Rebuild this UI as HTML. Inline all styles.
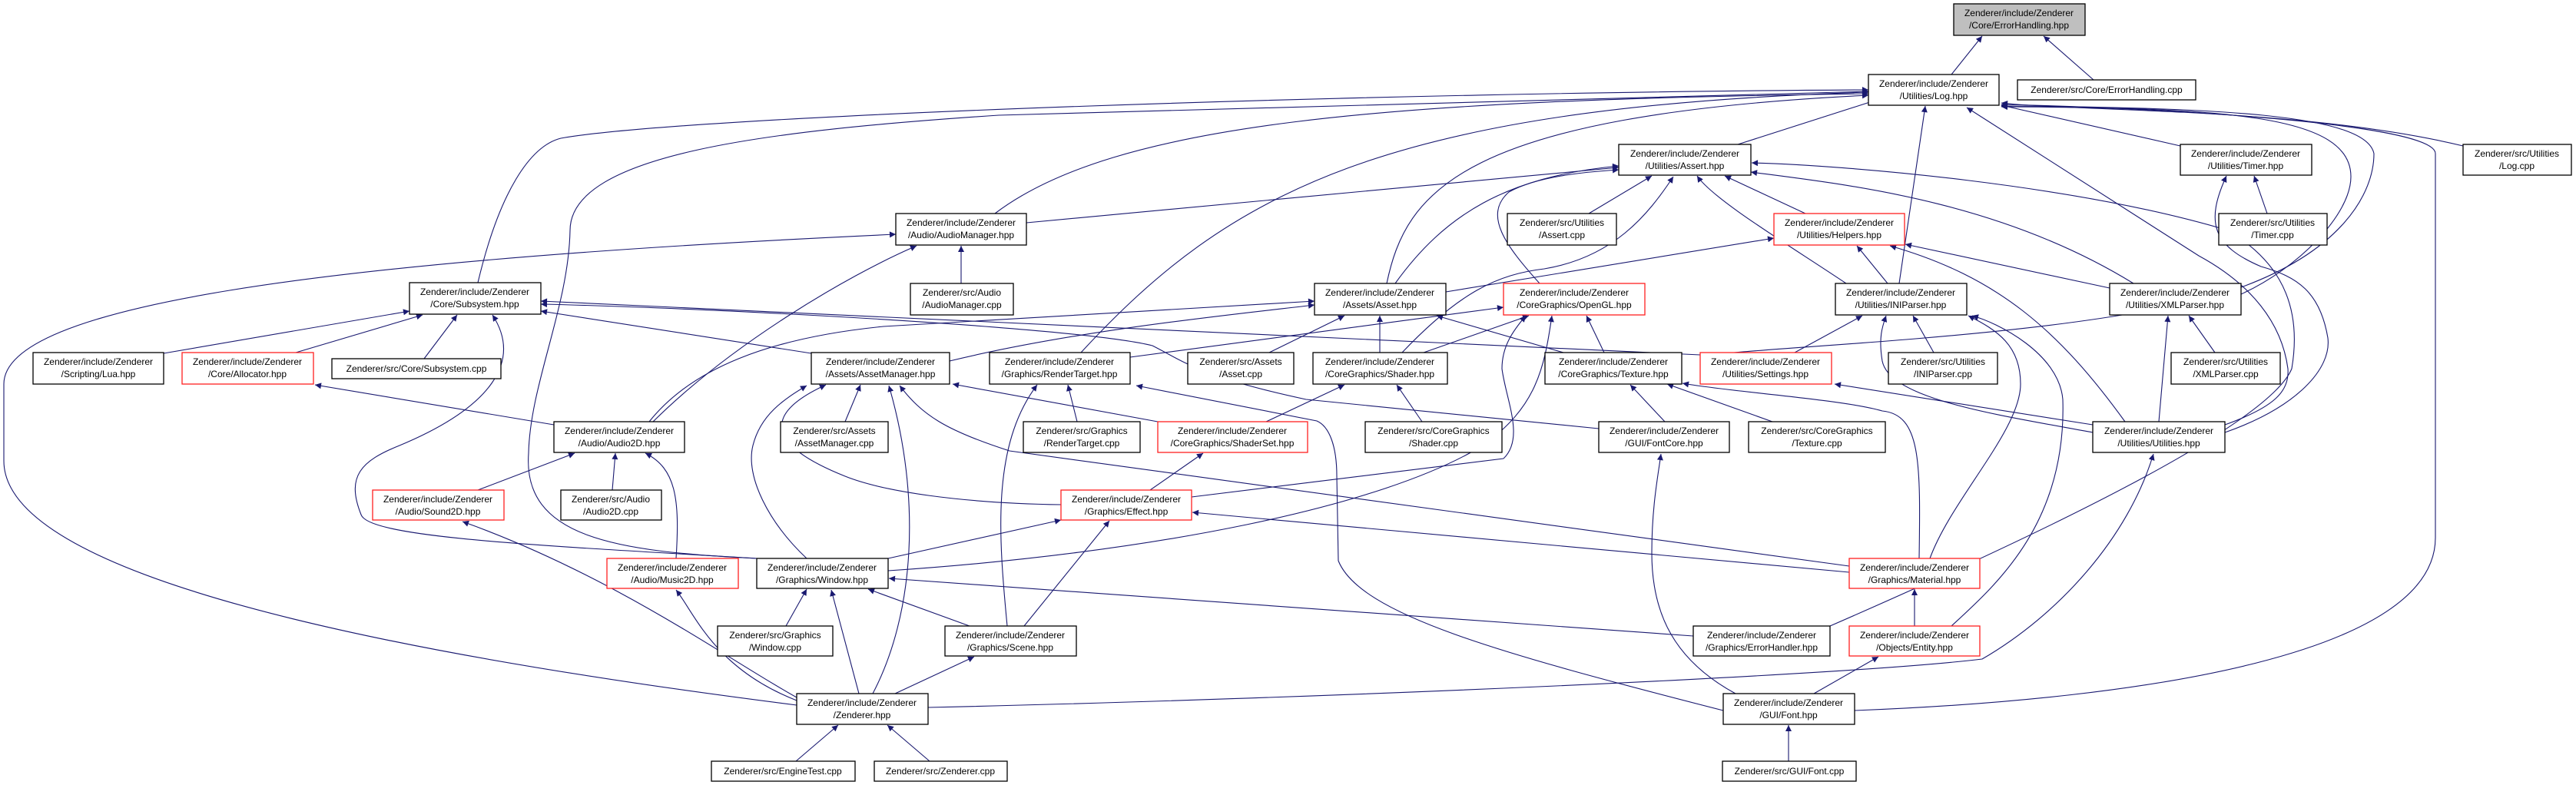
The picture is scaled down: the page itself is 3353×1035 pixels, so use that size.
<!DOCTYPE html>
<html><head><meta charset="utf-8"><style>
html,body{margin:0;padding:0;background:#fff;}
svg{display:block;}
text{font-family:"Liberation Sans",Arial,sans-serif;font-size:12px;text-anchor:middle;fill:#000;}
.n{fill:#fff;stroke:#000;stroke-width:1.3;}
.r{fill:#fff;stroke:#ff2020;stroke-width:1.3;}
.e{fill:none;stroke:#191970;stroke-width:1.1;marker-end:url(#a);}
</style></head><body>
<svg width="3353" height="1035" viewBox="0 0 3353 1035" xmlns="http://www.w3.org/2000/svg">
<defs><marker id="a" viewBox="0 0 10 10" refX="10" refY="5" markerWidth="11" markerHeight="8" markerUnits="userSpaceOnUse" orient="auto"><path d="M0,0L10,5L0,10z" fill="#191970"/></marker></defs>
<g>
<path class="e" d="M2540,97 L2580,47"/>
<path class="e" d="M2725,104 L2660,47"/>
<path class="e" d="M2262,188 L2440,131"/>
<path class="e" d="M2838,190 L2605,137"/>
<path class="e" d="M3206,190 C3000,140 2700,145 2605,134"/>
<path class="e" d="M1295,278 C1450,160 1800,130 2432,122"/>
<path class="e" d="M622,368 C650,250 690,190 730,180 C900,150 1800,120 2432,117"/>
<path class="e" d="M985,727 C800,718 680,700 688,590 C690,500 740,400 742,300 C742,200 1000,170 1300,150 L2432,119"/>
<path class="e" d="M1805,369 C1830,250 1900,150 2432,124"/>
<path class="e" d="M1407,459 C1600,250 1800,140 2432,120"/>
<path class="e" d="M2472,369 L2506,138"/>
<path class="e" d="M2896,553 C2960,530 2980,510 2978,480 C2970,420 2930,370 2862,333 L2560,140"/>
<path class="e" d="M2917,383 C2990,350 3060,280 3060,230 C3060,150 2900,140 2605,139"/>
<path class="e" d="M2213,464 C2300,450 2700,440 2900,380 C3050,330 3090,250 3090,200 C3080,150 2900,140 2605,138"/>
<path class="e" d="M2414,925 C2800,910 3170,850 3170,700 L3170,200 C3170,160 2800,140 2605,136"/>
<path class="e" d="M1037,918 C500,850 5,750 5,600 L5,500 C5,400 400,340 1166,305"/>
<path class="e" d="M1336,290 L2107,218"/>
<path class="e" d="M1816,369 C1880,280 1960,230 2107,216"/>
<path class="e" d="M2004,369 C1960,320 1930,280 1964,250 C2000,230 2060,224 2107,221"/>
<path class="e" d="M1825,459 C1900,380 1950,357 2010,350 C2100,335 2145,280 2178,230"/>
<path class="e" d="M2068,278 L2150,229"/>
<path class="e" d="M2350,278 L2245,229"/>
<path class="e" d="M2403,369 C2330,320 2230,260 2209,229"/>
<path class="e" d="M2777,369 C2600,260 2400,240 2279,224"/>
<path class="e" d="M2382,815 C2600,720 2950,560 2983,480 C3000,380 2950,330 2900,300 C2700,240 2400,215 2280,212"/>
<path class="e" d="M2951,278 L2934,229"/>
<path class="e" d="M2457,369 L2417,320"/>
<path class="e" d="M2746,375 L2480,318"/>
<path class="e" d="M1882,380 L2309,310"/>
<path class="e" d="M2766,549 C2680,430 2600,360 2460,320"/>
<path class="e" d="M2896,563 C2990,530 3035,480 3030,440 C3020,380 2990,360 2943,347 C2880,320 2870,290 2898,229"/>
<path class="e" d="M1251,369 L1251,320"/>
<path class="e" d="M850,549 C950,450 1100,360 1193,320"/>
<path class="e" d="M213,460 L533,405"/>
<path class="e" d="M385,459 L550,410"/>
<path class="e" d="M552,467 L595,410"/>
<path class="e" d="M1056,460 L704,405"/>
<path class="e" d="M985,727 C700,710 480,700 470,670 C450,620 470,600 520,580 C640,530 680,470 641,410"/>
<path class="e" d="M2081,558 L1700,520 C1560,490 1540,470 1500,450 C1400,425 900,400 704,396"/>
<path class="e" d="M2213,462 L704,392"/>
<path class="e" d="M1236,470 C1400,430 1600,410 1711,397"/>
<path class="e" d="M845,549 C900,480 1000,440 1150,425 L1711,392"/>
<path class="e" d="M1652,459 L1750,411"/>
<path class="e" d="M1796,459 L1796,411"/>
<path class="e" d="M2035,459 L1870,411"/>
<path class="e" d="M1471,465 L1957,400"/>
<path class="e" d="M1853,459 L1990,411"/>
<path class="e" d="M2088,459 L2065,411"/>
<path class="e" d="M1551,647 L1957,597 C1985,570 1960,520 1955,480 C1955,450 1970,430 1986,411"/>
<path class="e" d="M1156,743 C1500,720 1800,660 1930,580 C2000,530 2010,480 2020,411"/>
<path class="e" d="M2336,459 L2424,411"/>
<path class="e" d="M2517,459 L2490,411"/>
<path class="e" d="M2883,459 L2849,411"/>
<path class="e" d="M2810,549 L2822,411"/>
<path class="e" d="M2724,563 C2600,540 2460,520 2450,470 C2445,440 2450,425 2455,411"/>
<path class="e" d="M2724,553 L2388,500"/>
<path class="e" d="M2512,727 C2540,650 2630,560 2630,500 C2630,450 2600,430 2562,411"/>
<path class="e" d="M2540,815 C2600,760 2690,680 2685,520 C2680,460 2600,420 2567,411"/>
<path class="e" d="M2498,727 C2500,600 2500,540 2450,535 C2400,520 2250,510 2190,499"/>
<path class="e" d="M2307,549 L2170,500"/>
<path class="e" d="M2167,549 L2122,501"/>
<path class="e" d="M1648,549 L1750,501"/>
<path class="e" d="M1851,549 L1818,501"/>
<path class="e" d="M1402,549 L1390,501"/>
<path class="e" d="M1311,815 C1300,700 1290,580 1350,501"/>
<path class="e" d="M1507,549 L1240,500"/>
<path class="e" d="M1497,638 L1566,590"/>
<path class="e" d="M1156,727 L1381,677"/>
<path class="e" d="M1333,815 L1444,678"/>
<path class="e" d="M1381,657 C1250,655 1150,640 1100,620 C1000,580 990,540 1075,501"/>
<path class="e" d="M2407,745 L1552,667"/>
<path class="e" d="M2407,737 L1314,587 C1230,560 1200,540 1171,502"/>
<path class="e" d="M1050,727 C1000,680 970,620 980,580 C990,540 1020,520 1050,502"/>
<path class="e" d="M1136,903 C1190,800 1200,650 1157,502"/>
<path class="e" d="M1100,549 L1120,501"/>
<path class="e" d="M1118,903 L1082,768"/>
<path class="e" d="M1023,815 L1050,767"/>
<path class="e" d="M1262,815 L1130,767"/>
<path class="e" d="M2204,828 L1157,753"/>
<path class="e" d="M1165,903 L1268,855"/>
<path class="e" d="M1037,908 C950,860 800,750 602,679"/>
<path class="e" d="M1037,912 C930,870 905,800 880,768"/>
<path class="e" d="M2243,925 C1950,850 1770,800 1742,730 L1740,620 C1740,580 1730,555 1714,548 L1479,502"/>
<path class="e" d="M1208,921 C1700,910 2400,880 2580,858 C2680,800 2770,700 2803,591"/>
<path class="e" d="M1036,991 L1091,944"/>
<path class="e" d="M1210,991 L1155,944"/>
<path class="e" d="M2328,991 L2328,944"/>
<path class="e" d="M2361,903 L2445,855"/>
<path class="e" d="M2259,903 C2180,860 2150,800 2150,720 C2150,660 2158,620 2162,591"/>
<path class="e" d="M2492,815 L2492,767"/>
<path class="e" d="M880,727 C885,650 880,610 840,590"/>
<path class="e" d="M622,638 L748,590"/>
<path class="e" d="M797,638 L801,590"/>
<path class="e" d="M721,553 L410,501"/>
</g>
<g>
<rect x="2543" y="5" width="171" height="41" fill="#bfbfbf" stroke="#000" stroke-width="1.3"/><text x="2628" y="21">Zenderer/include/Zenderer</text><text x="2628" y="37">/Core/ErrorHandling.hpp</text>
<rect class="n" x="2432" y="97" width="170" height="40"/><text x="2517" y="113">Zenderer/include/Zenderer</text><text x="2517" y="129">/Utilities/Log.hpp</text>
<rect class="n" x="2626" y="104" width="232" height="26"/><text x="2742" y="121">Zenderer/src/Core/ErrorHandling.cpp</text>
<rect class="n" x="2107" y="188" width="172" height="40"/><text x="2193" y="204">Zenderer/include/Zenderer</text><text x="2193" y="220">/Utilities/Assert.hpp</text>
<rect class="n" x="2838" y="188" width="171" height="40"/><text x="2923" y="204">Zenderer/include/Zenderer</text><text x="2923" y="220">/Utilities/Timer.hpp</text>
<rect class="n" x="3206" y="188" width="141" height="40"/><text x="3276" y="204">Zenderer/src/Utilities</text><text x="3276" y="220">/Log.cpp</text>
<rect class="n" x="1166" y="278" width="170" height="41"/><text x="1251" y="294">Zenderer/include/Zenderer</text><text x="1251" y="310">/Audio/AudioManager.hpp</text>
<rect class="n" x="1962" y="278" width="142" height="41"/><text x="2033" y="294">Zenderer/src/Utilities</text><text x="2033" y="310">/Assert.cpp</text>
<rect class="r" x="2309" y="278" width="170" height="41"/><text x="2394" y="294">Zenderer/include/Zenderer</text><text x="2394" y="310">/Utilities/Helpers.hpp</text>
<rect class="n" x="2888" y="278" width="141" height="41"/><text x="2958" y="294">Zenderer/src/Utilities</text><text x="2958" y="310">/Timer.cpp</text>
<rect class="n" x="533" y="368" width="171" height="41"/><text x="618" y="384">Zenderer/include/Zenderer</text><text x="618" y="400">/Core/Subsystem.hpp</text>
<rect class="n" x="1185" y="369" width="134" height="41"/><text x="1252" y="385">Zenderer/src/Audio</text><text x="1252" y="401">/AudioManager.cpp</text>
<rect class="n" x="1711" y="369" width="171" height="41"/><text x="1796" y="385">Zenderer/include/Zenderer</text><text x="1796" y="401">/Assets/Asset.hpp</text>
<rect class="r" x="1957" y="369" width="184" height="41"/><text x="2049" y="385">Zenderer/include/Zenderer</text><text x="2049" y="401">/CoreGraphics/OpenGL.hpp</text>
<rect class="n" x="2389" y="369" width="171" height="41"/><text x="2474" y="385">Zenderer/include/Zenderer</text><text x="2474" y="401">/Utilities/INIParser.hpp</text>
<rect class="n" x="2746" y="369" width="171" height="41"/><text x="2831" y="385">Zenderer/include/Zenderer</text><text x="2831" y="401">/Utilities/XMLParser.hpp</text>
<rect class="n" x="43" y="459" width="170" height="41"/><text x="128" y="475">Zenderer/include/Zenderer</text><text x="128" y="491">/Scripting/Lua.hpp</text>
<rect class="r" x="237" y="459" width="171" height="41"/><text x="322" y="475">Zenderer/include/Zenderer</text><text x="322" y="491">/Core/Allocator.hpp</text>
<rect class="n" x="432" y="467" width="220" height="26"/><text x="542" y="484">Zenderer/src/Core/Subsystem.cpp</text>
<rect class="n" x="1056" y="459" width="180" height="41"/><text x="1146" y="475">Zenderer/include/Zenderer</text><text x="1146" y="491">/Assets/AssetManager.hpp</text>
<rect class="n" x="1288" y="459" width="183" height="41"/><text x="1379" y="475">Zenderer/include/Zenderer</text><text x="1379" y="491">/Graphics/RenderTarget.hpp</text>
<rect class="n" x="1546" y="459" width="138" height="41"/><text x="1615" y="475">Zenderer/src/Assets</text><text x="1615" y="491">/Asset.cpp</text>
<rect class="n" x="1709" y="459" width="175" height="41"/><text x="1796" y="475">Zenderer/include/Zenderer</text><text x="1796" y="491">/CoreGraphics/Shader.hpp</text>
<rect class="n" x="2011" y="459" width="178" height="41"/><text x="2100" y="475">Zenderer/include/Zenderer</text><text x="2100" y="491">/CoreGraphics/Texture.hpp</text>
<rect class="r" x="2213" y="459" width="171" height="41"/><text x="2298" y="475">Zenderer/include/Zenderer</text><text x="2298" y="491">/Utilities/Settings.hpp</text>
<rect class="n" x="2458" y="459" width="142" height="41"/><text x="2529" y="475">Zenderer/src/Utilities</text><text x="2529" y="491">/INIParser.cpp</text>
<rect class="n" x="2826" y="459" width="142" height="41"/><text x="2897" y="475">Zenderer/src/Utilities</text><text x="2897" y="491">/XMLParser.cpp</text>
<rect class="n" x="721" y="549" width="170" height="40"/><text x="806" y="565">Zenderer/include/Zenderer</text><text x="806" y="581">/Audio/Audio2D.hpp</text>
<rect class="n" x="1016" y="549" width="140" height="40"/><text x="1086" y="565">Zenderer/src/Assets</text><text x="1086" y="581">/AssetManager.cpp</text>
<rect class="n" x="1332" y="549" width="152" height="40"/><text x="1408" y="565">Zenderer/src/Graphics</text><text x="1408" y="581">/RenderTarget.cpp</text>
<rect class="r" x="1507" y="549" width="195" height="40"/><text x="1604" y="565">Zenderer/include/Zenderer</text><text x="1604" y="581">/CoreGraphics/ShaderSet.hpp</text>
<rect class="n" x="1777" y="549" width="178" height="40"/><text x="1866" y="565">Zenderer/src/CoreGraphics</text><text x="1866" y="581">/Shader.cpp</text>
<rect class="n" x="2081" y="549" width="170" height="40"/><text x="2166" y="565">Zenderer/include/Zenderer</text><text x="2166" y="581">/GUI/FontCore.hpp</text>
<rect class="n" x="2276" y="549" width="178" height="40"/><text x="2365" y="565">Zenderer/src/CoreGraphics</text><text x="2365" y="581">/Texture.cpp</text>
<rect class="n" x="2724" y="549" width="172" height="40"/><text x="2810" y="565">Zenderer/include/Zenderer</text><text x="2810" y="581">/Utilities/Utilities.hpp</text>
<rect class="r" x="485" y="638" width="171" height="39"/><text x="570" y="654">Zenderer/include/Zenderer</text><text x="570" y="670">/Audio/Sound2D.hpp</text>
<rect class="n" x="730" y="638" width="131" height="39"/><text x="795" y="654">Zenderer/src/Audio</text><text x="795" y="670">/Audio2D.cpp</text>
<rect class="r" x="1381" y="638" width="170" height="39"/><text x="1466" y="654">Zenderer/include/Zenderer</text><text x="1466" y="670">/Graphics/Effect.hpp</text>
<rect class="r" x="790" y="727" width="171" height="39"/><text x="875" y="743">Zenderer/include/Zenderer</text><text x="875" y="759">/Audio/Music2D.hpp</text>
<rect class="n" x="985" y="727" width="171" height="39"/><text x="1070" y="743">Zenderer/include/Zenderer</text><text x="1070" y="759">/Graphics/Window.hpp</text>
<rect class="r" x="2407" y="727" width="170" height="39"/><text x="2492" y="743">Zenderer/include/Zenderer</text><text x="2492" y="759">/Graphics/Material.hpp</text>
<rect class="n" x="934" y="815" width="150" height="39"/><text x="1009" y="831">Zenderer/src/Graphics</text><text x="1009" y="847">/Window.cpp</text>
<rect class="n" x="1230" y="815" width="171" height="39"/><text x="1315" y="831">Zenderer/include/Zenderer</text><text x="1315" y="847">/Graphics/Scene.hpp</text>
<rect class="n" x="2204" y="815" width="178" height="39"/><text x="2293" y="831">Zenderer/include/Zenderer</text><text x="2293" y="847">/Graphics/ErrorHandler.hpp</text>
<rect class="r" x="2407" y="815" width="170" height="39"/><text x="2492" y="831">Zenderer/include/Zenderer</text><text x="2492" y="847">/Objects/Entity.hpp</text>
<rect class="n" x="1037" y="903" width="171" height="40"/><text x="1122" y="919">Zenderer/include/Zenderer</text><text x="1122" y="935">/Zenderer.hpp</text>
<rect class="n" x="2243" y="903" width="171" height="40"/><text x="2328" y="919">Zenderer/include/Zenderer</text><text x="2328" y="935">/GUI/Font.hpp</text>
<rect class="n" x="926" y="991" width="187" height="26"/><text x="1019" y="1008">Zenderer/src/EngineTest.cpp</text>
<rect class="n" x="1138" y="991" width="173" height="26"/><text x="1224" y="1008">Zenderer/src/Zenderer.cpp</text>
<rect class="n" x="2242" y="991" width="174" height="26"/><text x="2329" y="1008">Zenderer/src/GUI/Font.cpp</text>
</g>
</svg>
</body></html>
